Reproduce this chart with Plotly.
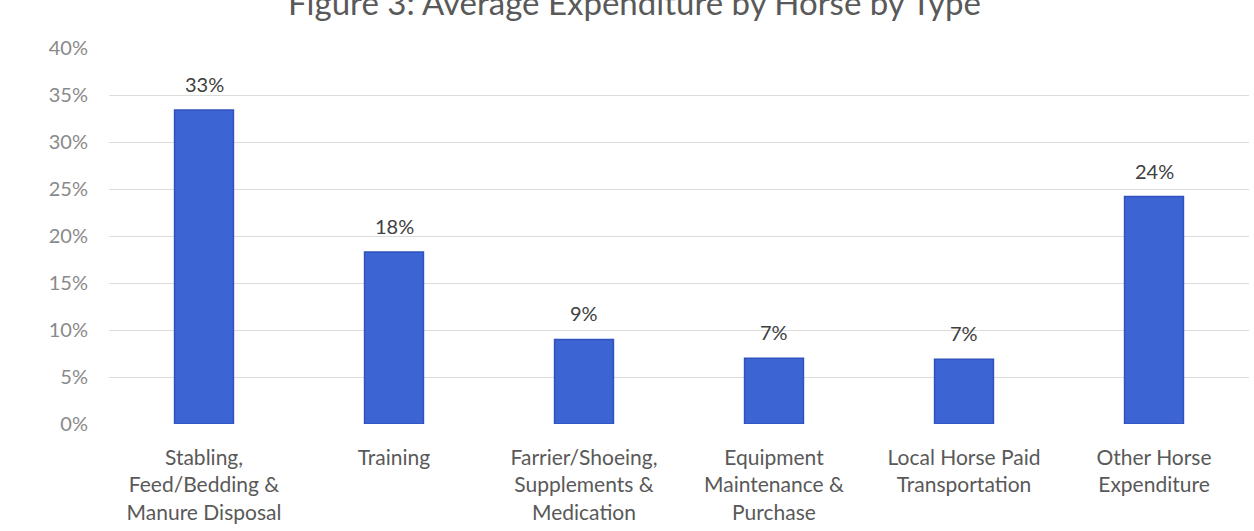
import plotly.graph_objects as go

categories = [
    "Stabling,<br>Feed/Bedding &<br>Manure Disposal",
    "Training",
    "Farrier/Shoeing,<br>Supplements &<br>Medication",
    "Equipment<br>Maintenance &<br>Purchase",
    "Local Horse Paid<br>Transportation",
    "Other Horse<br>Expenditure",
]
values = [33.4, 18.3, 9.0, 7.0, 6.9, 24.2]
labels = ["33%", "18%", "9%", "7%", "7%", "24%"]
ytick_vals = [0, 5, 10, 15, 20, 25, 30, 35, 40]
ytick_text = ["0%", "5%", "10%", "15%", "20%", "25%", "30%", "35%", "40%"]

FONT = "Lato, Open Sans, sans-serif"

fig = go.Figure(
    go.Bar(
        x=categories,
        y=values,
        marker=dict(color="#3c64d2", line=dict(color="#2f52bf", width=1.5)),
        hoverinfo="x+y",
    )
)

for c, v, t in zip(categories, values, labels):
    fig.add_annotation(
        x=c, y=v, text=t, showarrow=False,
        yanchor="bottom", yshift=12,
        font=dict(size=20, color="#404040", family=FONT),
    )

fig.update_layout(
    width=1254,
    height=531,
    margin=dict(l=109, r=5, t=48, b=107),
    paper_bgcolor="white",
    plot_bgcolor="white",
    bargap=0.69,
    showlegend=False,
    font=dict(family=FONT, color="#7f7f7f"),
    title=dict(
        text="Figure 3: Average Expenditure by Horse by Type",
        x=0.506,
        xanchor="center",
        y=1 - 3 / 531,
        yanchor="middle",
        yref="container",
        font=dict(size=33, color="#595959", family=FONT),
    ),
    xaxis=dict(
        showgrid=False,
        showline=False,
        tickfont=dict(size=21, color="#595959", family=FONT),
        ticklabelstandoff=19,
    ),
    yaxis=dict(
        range=[0, 40],
        tickvals=ytick_vals,
        ticktext=ytick_text,
        showgrid=True,
        gridcolor="#dcdcdc",
        gridwidth=1,
        zeroline=False,
        showline=False,
        tickfont=dict(size=20, color="#8a8a8a", family=FONT),
        ticklabelstandoff=20,
    ),
)

fig.write_html(
    "out.html",
    config={"displayModeBar": False},
    post_script="document.body.style.margin='0px';",
)
